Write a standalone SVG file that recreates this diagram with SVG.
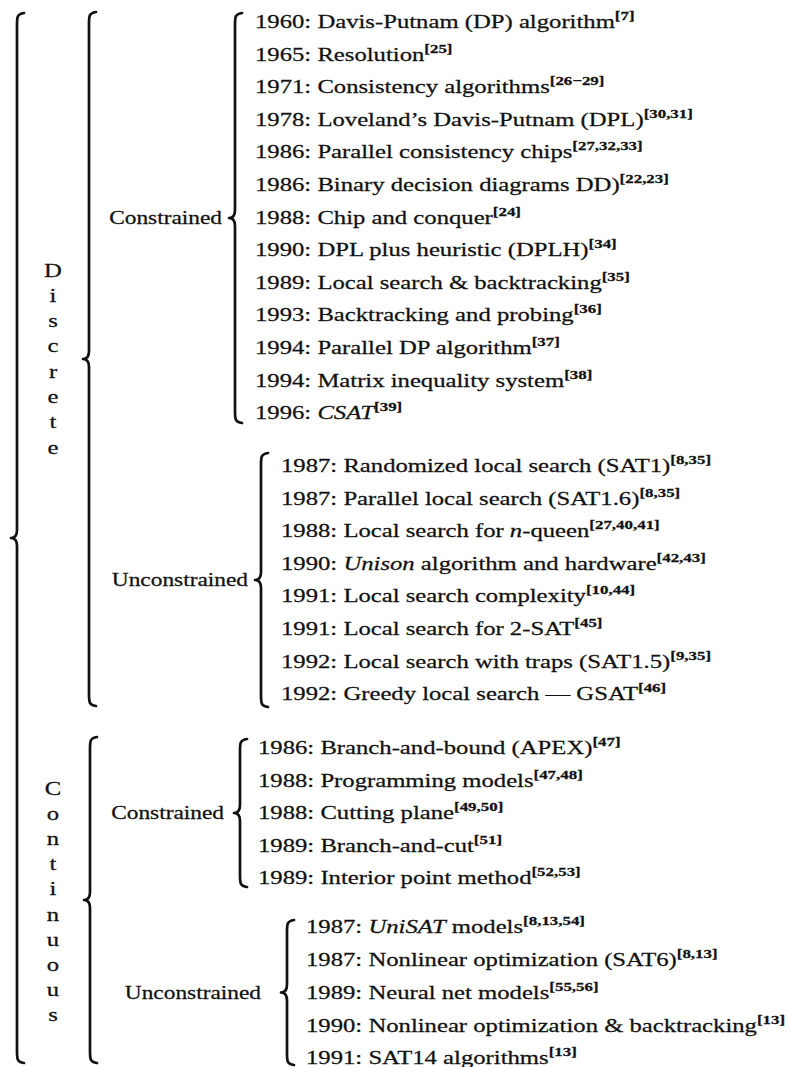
<svg xmlns="http://www.w3.org/2000/svg" width="790" height="1067" viewBox="0 0 790 1067">
<style>
.t{font-family:"Liberation Serif","Times New Roman",serif;font-size:19px;fill:#111;stroke:#111;stroke-width:0.25}
.s{font-size:13px;font-weight:bold}
.i{font-style:italic}
.e{text-anchor:end}
.m{text-anchor:middle}
.br{fill:none;stroke:#111;stroke-width:2.7;stroke-linecap:round;stroke-linejoin:round}
</style>
<rect width="790" height="1067" fill="#fff"/>
<g id="connectors">
<path class="br" d="M24 13 C17 14 17 17 17 25 L17 530 C17 535 15 538 11 538 C15 538 17 541 17 546 L17 1051 C17 1059 17 1062 24 1063"/>
<path class="br" d="M96 12 C89 13 89 16 89 24 L89 351 C89 356 87 359 83 359 C87 359 89 362 89 367 L89 694 C89 702 89 705 96 706"/>
<path class="br" d="M97 737 C90 738 90 741 90 749 L90 892 C90 897 88 900 84 900 C88 900 90 903 90 908 L90 1051 C90 1059 90 1062 97 1063"/>
<path class="br" d="M242 13 C235 14 235 17 235 25 L235 210 C235 215 233 218 229 218 C233 218 235 221 235 226 L235 411 C235 419 235 422 242 423"/>
<path class="br" d="M268 453 C261 454 261 457 261 465 L261 572 C261 577 259 580 255 580 C259 580 261 583 261 588 L261 695 C261 703 261 706 268 707"/>
<path class="br" d="M247 739 C240 740 240 743 240 751 L240 805 C240 810 238 813 234 813 C238 813 240 816 240 821 L240 875 C240 883 240 886 247 887"/>
<path class="br" d="M294 920 C287 921 287 924 287 932 L287 984.5 C287 989.5 285 992.5 281 992.5 C285 992.5 287 995.5 287 1000.5 L287 1053 C287 1061 287 1064 294 1065"/>
</g>
<g id="discrete">
<text class="t m" transform="translate(53 276.5) scale(1.3 1)">D</text>
<text class="t m" transform="translate(53 301.8) scale(1.3 1)">i</text>
<text class="t m" transform="translate(53 327.1) scale(1.3 1)">s</text>
<text class="t m" transform="translate(53 352.4) scale(1.3 1)">c</text>
<text class="t m" transform="translate(53 377.7) scale(1.3 1)">r</text>
<text class="t m" transform="translate(53 403) scale(1.3 1)">e</text>
<text class="t m" transform="translate(53 428.3) scale(1.3 1)">t</text>
<text class="t m" transform="translate(53 453.6) scale(1.3 1)">e</text>
</g>
<g id="continuous">
<text class="t m" transform="translate(53 794.5) scale(1.3 1)">C</text>
<text class="t m" transform="translate(53 819.7) scale(1.3 1)">o</text>
<text class="t m" transform="translate(53 844.9) scale(1.3 1)">n</text>
<text class="t m" transform="translate(53 870.1) scale(1.3 1)">t</text>
<text class="t m" transform="translate(53 895.3) scale(1.3 1)">i</text>
<text class="t m" transform="translate(53 920.5) scale(1.3 1)">n</text>
<text class="t m" transform="translate(53 945.7) scale(1.3 1)">u</text>
<text class="t m" transform="translate(53 970.9) scale(1.3 1)">o</text>
<text class="t m" transform="translate(53 996.1) scale(1.3 1)">u</text>
<text class="t m" transform="translate(53 1021.3) scale(1.3 1)">s</text>
</g>
<g id="discrete-constrained">
<text class="t e" transform="translate(222 223.6) scale(1.23 1)">Constrained</text>
<text class="t" transform="translate(255 28) scale(1.3 1)">1960: Davis-Putnam (DP) algorithm<tspan class="s" dy="-8">[7]</tspan></text>
<text class="t" transform="translate(255 60.6) scale(1.3 1)">1965: Resolution<tspan class="s" dy="-8">[25]</tspan></text>
<text class="t" transform="translate(255 93.2) scale(1.3 1)">1971: Consistency algorithms<tspan class="s" dy="-8">[26−29]</tspan></text>
<text class="t" transform="translate(255 125.8) scale(1.3 1)">1978: Loveland’s Davis-Putnam (DPL)<tspan class="s" dy="-8">[30,31]</tspan></text>
<text class="t" transform="translate(255 158.4) scale(1.3 1)">1986: Parallel consistency chips<tspan class="s" dy="-8">[27,32,33]</tspan></text>
<text class="t" transform="translate(255 191) scale(1.3 1)">1986: Binary decision diagrams DD)<tspan class="s" dy="-8">[22,23]</tspan></text>
<text class="t" transform="translate(255 223.6) scale(1.3 1)">1988: Chip and conquer<tspan class="s" dy="-8">[24]</tspan></text>
<text class="t" transform="translate(255 256.2) scale(1.3 1)">1990: DPL plus heuristic (DPLH)<tspan class="s" dy="-8">[34]</tspan></text>
<text class="t" transform="translate(255 288.8) scale(1.3 1)">1989: Local search &amp; backtracking<tspan class="s" dy="-8">[35]</tspan></text>
<text class="t" transform="translate(255 321.4) scale(1.3 1)">1993: Backtracking and probing<tspan class="s" dy="-8">[36]</tspan></text>
<text class="t" transform="translate(255 354) scale(1.3 1)">1994: Parallel DP algorithm<tspan class="s" dy="-8">[37]</tspan></text>
<text class="t" transform="translate(255 386.6) scale(1.3 1)">1994: Matrix inequality system<tspan class="s" dy="-8">[38]</tspan></text>
<text class="t" transform="translate(255 419.2) scale(1.3 1)">1996: <tspan class="i">CSAT</tspan><tspan class="s" dy="-8">[39]</tspan></text>
</g>
<g id="discrete-unconstrained">
<text class="t e" transform="translate(248 586) scale(1.23 1)">Unconstrained</text>
<text class="t" transform="translate(281 472) scale(1.3 1)">1987: Randomized local search (SAT1)<tspan class="s" dy="-8">[8,35]</tspan></text>
<text class="t" transform="translate(281 504.6) scale(1.3 1)">1987: Parallel local search (SAT1.6)<tspan class="s" dy="-8">[8,35]</tspan></text>
<text class="t" transform="translate(281 537.2) scale(1.3 1)">1988: Local search for <tspan class="i">n</tspan>-queen<tspan class="s" dy="-8">[27,40,41]</tspan></text>
<text class="t" transform="translate(281 569.8) scale(1.3 1)">1990: <tspan class="i">Unison</tspan> algorithm and hardware<tspan class="s" dy="-8">[42,43]</tspan></text>
<text class="t" transform="translate(281 602.4) scale(1.3 1)">1991: Local search complexity<tspan class="s" dy="-8">[10,44]</tspan></text>
<text class="t" transform="translate(281 635) scale(1.3 1)">1991: Local search for 2-SAT<tspan class="s" dy="-8">[45]</tspan></text>
<text class="t" transform="translate(281 667.6) scale(1.3 1)">1992: Local search with traps (SAT1.5)<tspan class="s" dy="-8">[9,35]</tspan></text>
<text class="t" transform="translate(281 700.2) scale(1.3 1)">1992: Greedy local search — GSAT<tspan class="s" dy="-8">[46]</tspan></text>
</g>
<g id="continuous-constrained">
<text class="t e" transform="translate(224 819.2) scale(1.23 1)">Constrained</text>
<text class="t" transform="translate(258 754) scale(1.3 1)">1986: Branch-and-bound (APEX)<tspan class="s" dy="-8">[47]</tspan></text>
<text class="t" transform="translate(258 786.6) scale(1.3 1)">1988: Programming models<tspan class="s" dy="-8">[47,48]</tspan></text>
<text class="t" transform="translate(258 819.2) scale(1.3 1)">1988: Cutting plane<tspan class="s" dy="-8">[49,50]</tspan></text>
<text class="t" transform="translate(258 851.8) scale(1.3 1)">1989: Branch-and-cut<tspan class="s" dy="-8">[51]</tspan></text>
<text class="t" transform="translate(258 884.4) scale(1.3 1)">1989: Interior point method<tspan class="s" dy="-8">[52,53]</tspan></text>
</g>
<g id="continuous-unconstrained">
<text class="t e" transform="translate(261 998.5) scale(1.23 1)">Unconstrained</text>
<text class="t" transform="translate(306 932.5) scale(1.3 1)">1987: <tspan class="i">UniSAT</tspan> models<tspan class="s" dy="-8">[8,13,54]</tspan></text>
<text class="t" transform="translate(306 965.5) scale(1.3 1)">1987: Nonlinear optimization (SAT6)<tspan class="s" dy="-8">[8,13]</tspan></text>
<text class="t" transform="translate(306 998.5) scale(1.3 1)">1989: Neural net models<tspan class="s" dy="-8">[55,56]</tspan></text>
<text class="t" transform="translate(306 1031.5) scale(1.3 1)">1990: Nonlinear optimization &amp; backtracking<tspan class="s" dy="-8">[13]</tspan></text>
<text class="t" transform="translate(306 1064) scale(1.3 1)">1991: SAT14 algorithms<tspan class="s" dy="-8">[13]</tspan></text>
</g>
</svg>
